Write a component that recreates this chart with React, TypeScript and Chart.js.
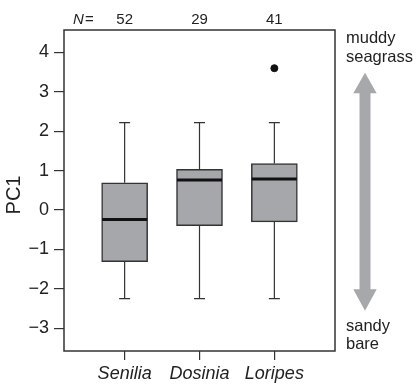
import React, { useEffect, useRef } from "react";
import { Chart, registerables } from "chart.js";

Chart.register(...registerables);

const categories = ["Senilia", "Dosinia", "Loripes"];
const counts = [52, 29, 41];
const whiskerLow = [-2.25, -2.25, -2.25];
const q1 = [-1.31, -0.4, -0.3];
const median = [-0.24, 0.76, 0.79];
const q3 = [0.69, 1.03, 1.18];
const whiskerHigh = [2.22, 2.22, 2.22];
const outliers = [{ cat: 3, value: 3.6 }];
const yTicks = [-3, -2, -1, 0, 1, 2, 3, 4];
const topLabel = "muddy|seagrass";
const bottomLabel = "sandy|bare";

const FONT = "'Liberation Sans', Arial, Helvetica, sans-serif";

const extras = {
  id: "extras",
  afterDatasetsDraw(chart: any) {
    const { ctx, chartArea, scales } = chart;
    const x = scales.x;
    const y = scales.y;
    ctx.save();
    // whiskers & medians
    for (let i = 0; i < categories.length; i++) {
      const cx = x.getPixelForValue(i + 1);
      ctx.strokeStyle = "#333";
      ctx.lineWidth = 1.2;
      const cap = 5.5;
      ctx.beginPath();
      ctx.moveTo(cx, y.getPixelForValue(q3[i]));
      ctx.lineTo(cx, y.getPixelForValue(whiskerHigh[i]));
      ctx.moveTo(cx - cap, y.getPixelForValue(whiskerHigh[i]));
      ctx.lineTo(cx + cap, y.getPixelForValue(whiskerHigh[i]));
      ctx.moveTo(cx, y.getPixelForValue(q1[i]));
      ctx.lineTo(cx, y.getPixelForValue(whiskerLow[i]));
      ctx.moveTo(cx - cap, y.getPixelForValue(whiskerLow[i]));
      ctx.lineTo(cx + cap, y.getPixelForValue(whiskerLow[i]));
      ctx.stroke();
      const half = 22.5;
      ctx.strokeStyle = "#111";
      ctx.lineWidth = 3;
      ctx.beginPath();
      ctx.moveTo(cx - half, y.getPixelForValue(median[i]));
      ctx.lineTo(cx + half, y.getPixelForValue(median[i]));
      ctx.stroke();
    }
    // frame
    ctx.strokeStyle = "#333";
    ctx.lineWidth = 1.5;
    ctx.strokeRect(chartArea.left, chartArea.top, chartArea.right - chartArea.left, chartArea.bottom - chartArea.top);

    // N labels
    ctx.fillStyle = "#222";
    ctx.font = `15px ${FONT}`;
    ctx.textBaseline = "middle";
    ctx.textAlign = "center";
    for (let i = 0; i < categories.length; i++) {
      ctx.fillText(String(counts[i]), x.getPixelForValue(i + 1), 20);
    }
    ctx.textAlign = "left";
    ctx.font = `italic 15px ${FONT}`;
    ctx.fillText("N", 73, 20);
    ctx.font = `15px ${FONT}`;
    ctx.fillText("=", 85, 20);

    // y title
    ctx.save();
    ctx.translate(14, 195);
    ctx.rotate(-Math.PI / 2);
    ctx.textAlign = "center";
    ctx.font = `20px ${FONT}`;
    ctx.fillText("PC1", 0, 0);
    ctx.restore();

    // arrow
    const ax = 365;
    const top = 72.7, headTop = 93.3, headBot = 289.3, bot = 310.7;
    ctx.fillStyle = "#a7a8ab";
    ctx.beginPath();
    ctx.moveTo(ax, top);
    ctx.lineTo(ax + 11.7, headTop);
    ctx.lineTo(ax + 5.5, headTop);
    ctx.lineTo(ax + 5.5, headBot);
    ctx.lineTo(ax + 11.7, headBot);
    ctx.lineTo(ax, bot);
    ctx.lineTo(ax - 11.7, headBot);
    ctx.lineTo(ax - 5.5, headBot);
    ctx.lineTo(ax - 5.5, headTop);
    ctx.lineTo(ax - 11.7, headTop);
    ctx.closePath();
    ctx.fill();

    ctx.fillStyle = "#222";
    ctx.textAlign = "left";
    ctx.font = `16.5px ${FONT}`;
    const tl = topLabel.split("|");
    ctx.fillText(tl[0], 346, 38);
    ctx.fillText(tl[1], 346, 57);
    const bl = bottomLabel.split("|");
    ctx.fillText(bl[0], 346, 326);
    ctx.fillText(bl[1], 346, 344);
    ctx.restore();
  },
};

export default function App() {
  const ref = useRef<HTMLCanvasElement | null>(null);
  useEffect(() => {
    document.body.style.margin = "0";
    Chart.defaults.font.family = FONT;
    const chart = new Chart(ref.current as HTMLCanvasElement, {
      type: "bar",
      data: {
        datasets: [
          {
            type: "bar",
            data: categories.map((c, i) => ({ x: i + 1, y: [q1[i], q3[i]] })) as any,
            backgroundColor: "#a6a7aa",
            borderColor: "#333",
            borderWidth: 1.5,
            borderSkipped: false,
            barThickness: 46,
          } as any,
          {
            type: "scatter",
            data: outliers.map((o) => ({ x: o.cat, y: o.value })),
            backgroundColor: "#111",
            borderColor: "#111",
            pointRadius: 3.5,
          } as any,
        ],
      },
      options: {
        responsive: false,
        animation: false,
        events: [],
        layout: { padding: { left: 0, top: 30, right: 81, bottom: 0 } },
        plugins: { legend: { display: false }, tooltip: { enabled: false } },
        scales: {
          x: {
            type: "linear",
            min: 0.19,
            max: 3.81,
            offset: false,
            afterFit: (s: any) => {
              s.height = 35;
            },
            afterBuildTicks: (s: any) => {
              s.ticks = categories.map((_, i) => ({ value: i + 1 }));
            },
            grid: { display: true, offset: false, drawOnChartArea: false, drawTicks: true, tickLength: 9, color: "#333", lineWidth: 1.2 },
            border: { display: false },
            ticks: {
              color: "#222",
              padding: 3,
              maxRotation: 0,
              autoSkip: false,
              font: { size: 18, style: "italic" },
              callback: (v: any) => categories[Math.round(v) - 1] ?? "",
            },
          },
          y: {
            type: "linear",
            min: -3.58,
            max: 4.57,
            afterFit: (s: any) => {
              s.width = 64;
            },
            afterBuildTicks: (s: any) => {
              s.ticks = yTicks.map((v) => ({ value: v }));
            },
            grid: { display: true, drawOnChartArea: false, drawTicks: true, tickLength: 10, color: "#333", lineWidth: 1.2 },
            border: { display: false },
            ticks: {
              color: "#222",
              padding: 5,
              font: { size: 18 },
              callback: (v: any) => (v < 0 ? "\u2212" + Math.abs(v) : String(v)),
            },
          },
        },
      },
      plugins: [extras],
    } as any);
    return () => chart.destroy();
  }, []);
  return (
    <div style={{ position: "absolute", left: 0, top: 0, width: 416, height: 386, background: "#fff" }}>
      <canvas ref={ref} width={416} height={386} />
    </div>
  );
}
